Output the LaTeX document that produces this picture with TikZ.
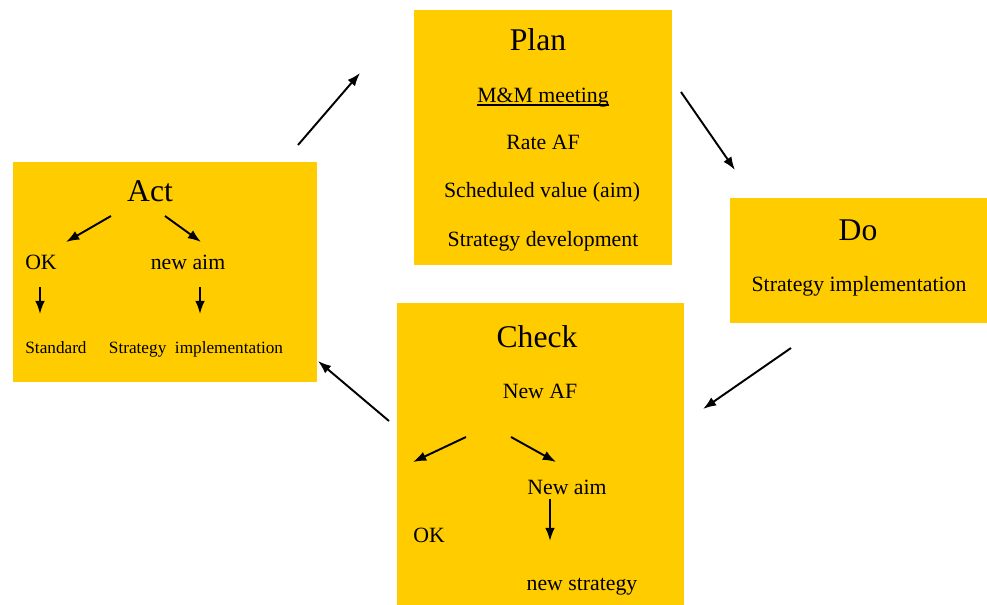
\documentclass[tikz,border=0pt]{standalone}
\usepackage{fontspec}
\setmainfont{Liberation Serif}
\usetikzlibrary{arrows.meta}
\definecolor{pdcaYellow}{RGB}{255,204,0}
\tikzset{
  phase/.style={fill=pdcaYellow},
  phasetitle/.style={font=\fontsize{18}{20}\selectfont, anchor=base, inner sep=0pt},
  item/.style={font=\fontsize{12.4}{14}\selectfont, anchor=base, inner sep=0pt},
  smallitem/.style={font=\fontsize{9.8}{12}\selectfont, anchor=base, inner sep=0pt},
  flow/.style={-{Latex[length=7.5pt,width=5.5pt]}, line width=1.1pt},
}
\begin{document}
\begin{tikzpicture}[x=0.02cm, y=-0.02cm]
    % Rahmen des Bildes
    \useasboundingbox (0,0) rectangle (987,605);

    % Felder der vier Phasen
    \fill[phase] (414,10) rectangle (672,265);  % Plan
    \fill[phase] (730,198) rectangle (987,323); % Do
    \fill[phase] (397,303) rectangle (684,605); % Check
    \fill[phase] (13,162) rectangle (317,382);  % Act

    % Plan
    \node[phasetitle] (plan) at (538,51) {Plan};
    \node[item] (mm) at (543,102) {M\&M meeting};
    \draw[line width=1.3pt] ([yshift=-1.8pt]mm.base west) -- ([yshift=-1.8pt]mm.base east);
    \node[item] (rate) at (543,149) {Rate AF};
    \node[item] (sched) at (542,197) {Scheduled value (aim)};
    \node[item] (dev) at (543,246) {Strategy development};

    % Do
    \node[phasetitle] (do) at (858,240) {Do};
    \node[item] (impl) at (859,291) {Strategy implementation};

    % Check
    \node[phasetitle] (check) at (537,347) {Check};
    \node[item] (newaf) at (540,398) {New AF};
    \node[item] (checknewaim) at (567,494) {New aim};
    \node[item] (checkok) at (429,542) {OK};
    \node[item] (newstrat) at (582,590) {new strategy};

    % Act
    \node[phasetitle] (act) at (150,201) {Act};
    \node[item] (actok) at (41,269) {OK};
    \node[item] (actnewaim) at (188,269) {new aim};
    \node[smallitem] (standard) at (56,353) {Standard};
    \node[smallitem] (actimpl) at (196,353) {Strategy\ \ implementation};

    % Endpunkte der Pfeile
    \coordinate (a1) at (298,145);  \coordinate (a2) at (360,73);
    \coordinate (b1) at (681,92);   \coordinate (b2) at (735,170);
    \coordinate (c1) at (791,348);  \coordinate (c2) at (703,409);
    \coordinate (d1) at (389,421);  \coordinate (d2) at (318,361);

    % Kreislauf
    \draw[flow] (a1) -- (a2);
    \draw[flow] (b1) -- (b2);
    \draw[flow] (c1) -- (c2);
    \draw[flow] (d1) -- (d2);

    % Verzweigungen in Act
    \draw[flow] (111,216) -- (66,242);
    \draw[flow] (165,216) -- (201,242);
    \draw[flow] (40,287) -- (40,314);
    \draw[flow] (200,287) -- (200,314);

    % Verzweigungen in Check
    \draw[flow] (466,437) -- (413,462);
    \draw[flow] (511,437) -- (556,462);
    \draw[flow] (550,499) -- (550,541);
\end{tikzpicture}
\end{document}
